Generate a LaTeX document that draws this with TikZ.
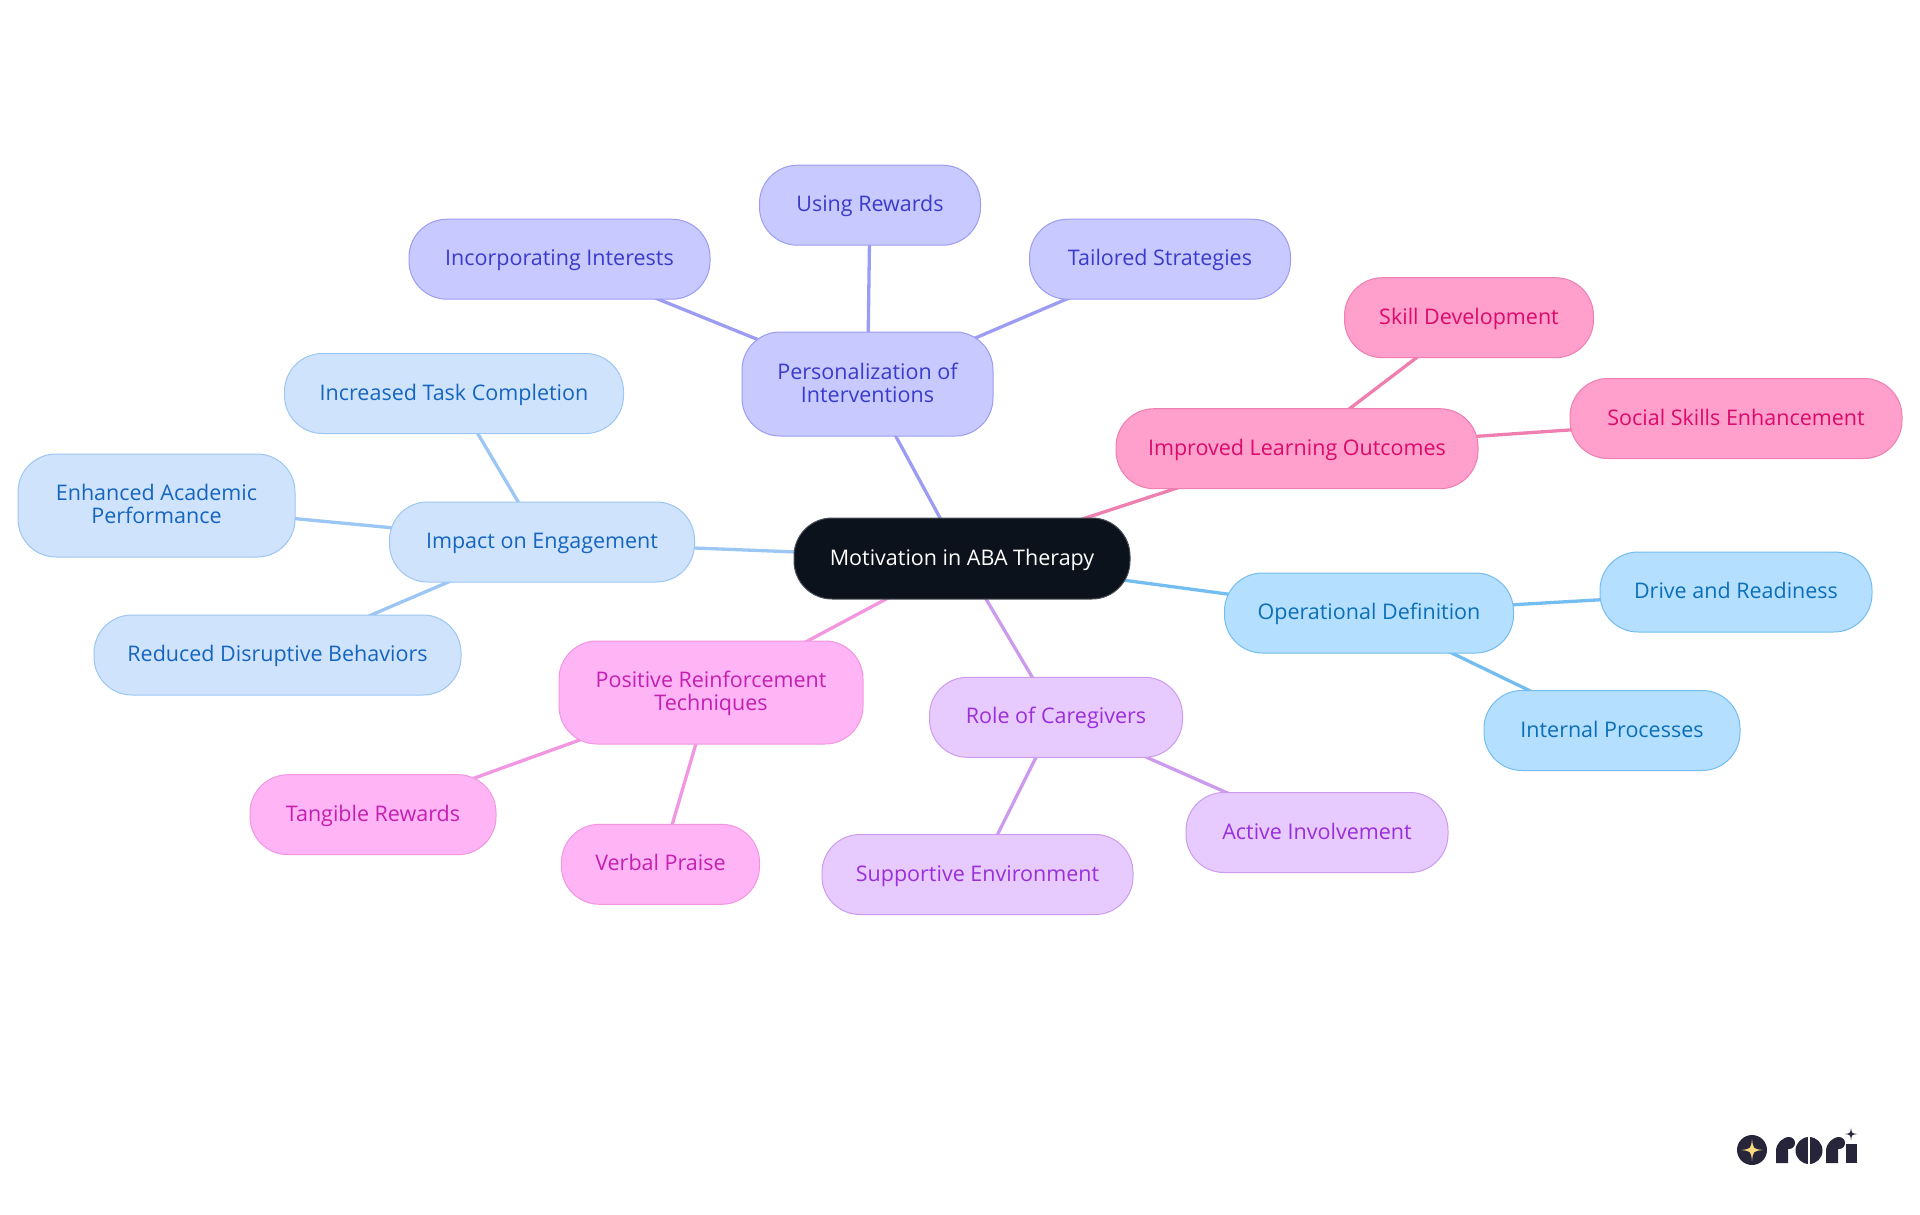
\documentclass[tikz,border=0pt]{standalone}
\usepackage{fontspec}
\setmainfont{Open Sans}
\pgfdeclarelayer{edges}
\pgfsetlayers{edges,main}
\definecolor{rootfill}{HTML}{0B121B}
\definecolor{rootline}{HTML}{4A4F56}
\definecolor{perF}{HTML}{C8C9FF}\definecolor{perL}{HTML}{9C9DF2}\definecolor{perT}{HTML}{3A3BCB}
\definecolor{impF}{HTML}{CFE3FC}\definecolor{impL}{HTML}{9CC6F3}\definecolor{impT}{HTML}{1565C0}
\definecolor{opF}{HTML}{B5DFFF}\definecolor{opL}{HTML}{74BDF0}\definecolor{opT}{HTML}{0B6FB8}
\definecolor{lrnF}{HTML}{FF9FCB}\definecolor{lrnL}{HTML}{EE7FB0}\definecolor{lrnT}{HTML}{DB0A6B}
\definecolor{posF}{HTML}{FFB5F5}\definecolor{posL}{HTML}{F296E2}\definecolor{posT}{HTML}{C41FB0}
\definecolor{rolF}{HTML}{E7CBFF}\definecolor{rolL}{HTML}{CC9BEE}\definecolor{rolT}{HTML}{9A2EDB}
\definecolor{logoD}{HTML}{26253A}\definecolor{logoY}{HTML}{FAD97F}
\tikzset{
 x=1pt,y=-1pt,
 box/.style={draw,line width=1pt,rounded corners=38pt,align=center,inner sep=0pt,text height=16pt,text depth=3pt,minimum height=80pt,font=\fontsize{21.5}{23}\selectfont},
 twoline/.style={text height=36pt,text depth=0pt,minimum height=104pt},
 rootbox/.style={box,fill=rootfill,draw=rootline,text=white},
 perbox/.style={box,fill=perF,draw=perL,text=perT},
 impbox/.style={box,fill=impF,draw=impL,text=impT},
 oprbox/.style={box,fill=opF,draw=opL,text=opT},
 lrnbox/.style={box,fill=lrnF,draw=lrnL,text=lrnT},
 posbox/.style={box,fill=posF,draw=posL,text=posT},
 rolbox/.style={box,fill=rolF,draw=rolL,text=rolT},
 link/.style={line width=3.3pt},
}
\newcommand{\sparkle}[4]{\fill[#1] (#2,#3-#4) .. controls (#2+0.1*#4,#3-0.1*#4) .. (#2+#4,#3) .. controls (#2+0.1*#4,#3+0.1*#4) .. (#2,#3+#4) .. controls (#2-0.1*#4,#3+0.1*#4) .. (#2-#4,#3) .. controls (#2-0.1*#4,#3-0.1*#4) .. cycle;}
\begin{document}
\begin{tikzpicture}
\useasboundingbox (0,0) rectangle (1920,1215);
% root
\node[rootbox,minimum width=336pt,minimum height=81pt] (root) at (962,558.5) {Motivation in ABA Therapy};
% personalization
\node[perbox,twoline,minimum width=251pt] (pers) at (867.5,384) {Personalization of\\Interventions};
\node[perbox,minimum width=221pt] (rew) at (870,205.2) {Using Rewards};
\node[perbox,minimum width=301pt] (inte) at (559.5,259.2) {Incorporating Interests};
\node[perbox,minimum width=261pt] (tail) at (1160,259.2) {Tailored Strategies};
% learning
\node[lrnbox,minimum width=362pt] (learn) at (1297,448.7) {Improved Learning Outcomes};
\node[lrnbox,minimum width=249pt] (skill) at (1469,317.7) {Skill Development};
\node[lrnbox,minimum width=332pt] (soc) at (1736,418.5) {Social Skills Enhancement};
% operational
\node[oprbox,minimum width=289pt] (oper) at (1369,613) {Operational Definition};
\node[oprbox,minimum width=272pt] (drive) at (1736,592) {Drive and Readiness};
\node[oprbox,minimum width=256pt] (proc) at (1612,730.5) {Internal Processes};
% role
\node[rolbox,minimum width=253pt] (role) at (1056,717.3) {Role of Caregivers};
\node[rolbox,minimum width=262pt] (act) at (1317,832.5) {Active Involvement};
\node[rolbox,minimum width=311pt] (supp) at (977.5,874.5) {Supportive Environment};
% positive
\node[posbox,twoline,minimum width=304pt,minimum height=103pt] (posr) at (711,692.5) {Positive Reinforcement\\Techniques};
\node[posbox,minimum width=246pt] (tang) at (373,814.7) {Tangible Rewards};
\node[posbox,minimum width=198pt] (verb) at (660.5,864.3) {Verbal Praise};
% impact
\node[impbox,minimum width=305pt] (impa) at (542,542) {Impact on Engagement};
\node[impbox,minimum width=339pt] (task) at (454,393.5) {Increased Task Completion};
\node[impbox,twoline,minimum width=277pt,minimum height=103pt] (acad) at (156.5,505.5) {Enhanced Academic\\Performance};
\node[impbox,minimum width=367pt] (disr) at (277.5,655) {Reduced Disruptive Behaviors};
\begin{pgfonlayer}{edges}
\draw[link,draw=perL] (root.center)--(pers.center) (pers.center)--(rew.center) (pers.center)--(inte.center) (pers.center)--(tail.center);
\draw[link,draw=lrnL] (root.center)--(learn.center) (learn.center)--(skill.center) (learn.center)--(soc.center);
\draw[link,draw=opL] (root.center)--(oper.center) (oper.center)--(drive.center) (oper.center)--(proc.center);
\draw[link,draw=rolL] (root.center)--(role.center) (role.center)--(act.center) (role.center)--(supp.center);
\draw[link,draw=posL] (root.center)--(posr.center) (posr.center)--(tang.center) (posr.center)--(verb.center);
\draw[link,draw=impL] (root.center)--(impa.center) (impa.center)--(task.center) (impa.center)--(acad.center) (impa.center)--(disr.center);
\end{pgfonlayer}
% logo
\fill[logoD] (1752,1150) circle (15pt);
\sparkle{logoY}{1752}{1150}{11}
% r
\fill[logoD] (1776,1163) -- (1776,1151) arc[start angle=180,end angle=90,radius=14pt] -- (1788,1137) -- (1788,1163) -- cycle;
\fill[white] (1785,1145) circle (1.5pt);
\fill[logoD] (1789,1143) circle (6pt);
% o
\fill[logoD] (1809,1150.5) circle (13.5pt);
\fill[white] (1808,1137) rectangle (1809.5,1164);
% r
\fill[logoD] (1826,1163) -- (1826,1151) arc[start angle=180,end angle=90,radius=14pt] -- (1838,1137) -- (1838,1163) -- cycle;
\fill[white] (1835,1145) circle (1.5pt);
\fill[logoD] (1839,1143) circle (6pt);
% i
\fill[logoD] (1846,1144) rectangle (1857,1163);
\sparkle{logoD}{1851}{1134}{6.5}
\end{tikzpicture}
\end{document}
